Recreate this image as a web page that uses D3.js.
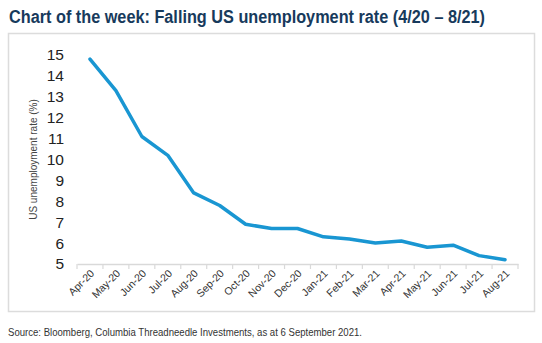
<!DOCTYPE html>
<html>
<head>
<meta charset="utf-8">
<script src="https://cdn.jsdelivr.net/npm/d3@7"></script>
<style>
  body { margin: 0; background: #fff; }
  svg { display: block; }
</style>
</head>
<body>
<div id="chart"></div>
<script>
// monthly US unemployment rate, Apr-20 .. Aug-21
var months = ["Apr-20", "May-20", "Jun-20", "Jul-20", "Aug-20", "Sep-20", "Oct-20", "Nov-20", "Dec-20",
              "Jan-21", "Feb-21", "Mar-21", "Apr-21", "May-21", "Jun-21", "Jul-21", "Aug-21"];
var rates = [14.8, 13.3, 11.1, 10.2, 8.4, 7.8, 6.9, 6.7, 6.7, 6.3, 6.2, 6.0, 6.1, 5.8, 5.9, 5.4, 5.2];
var yTicks = [5, 6, 7, 8, 9, 10, 11, 12, 13, 14, 15];

var W = 542, H = 343;
// note: "top" is taken by window.top, so plot edges get their own names
var plotL = 77, plotR = 518, plotT = 55, plotB = 264;

var svg = d3.select("#chart").append("svg")
    .attr("width", W)
    .attr("height", H);

svg.append("text")
    .attr("x", 9)
    .attr("y", 23)
    .attr("font-family", "'Liberation Sans Narrow', 'Arial Narrow', 'Liberation Sans', sans-serif")
    .attr("font-weight", "bold")
    .attr("font-size", 18)
    .attr("fill", "#173a5c")
    .attr("textLength", 476)
    .attr("lengthAdjust", "spacingAndGlyphs")
    .text("Chart of the week: Falling US unemployment rate (4/20 \u2013 8/21)");

// frame
svg.append("rect")
    .attr("x", 8.5)
    .attr("y", 33.5)
    .attr("width", 526)
    .attr("height", 278)
    .attr("fill", "none")
    .attr("stroke", "#dcdcdc")
    .attr("stroke-width", 1.5);

var x = d3.scaleBand().domain(months).range([plotL, plotR]);
var y = d3.scaleLinear().domain([5, 15]).range([plotB, plotT]);

// y axis labels only
var ya = svg.append("g")
    .attr("transform", "translate(" + (plotL - 13) + ",0)")
    .call(d3.axisLeft(y).tickValues(yTicks).tickSize(0).tickPadding(0));
ya.select(".domain").remove();
ya.selectAll("text")
    .attr("font-family", "'Liberation Sans', Arial, sans-serif")
    .attr("font-size", 15.5)
    .attr("fill", "#222");

svg.append("text")
    .attr("transform", "translate(37," + ((plotT + plotB) / 2) + ") rotate(-90)")
    .attr("text-anchor", "middle")
    .attr("font-family", "'Liberation Sans', Arial, sans-serif")
    .attr("font-size", 10)
    .attr("fill", "#444")
    .text("US unemployment rate (%)");

// x axis, ticks on category boundaries
var xa = svg.append("g")
    .attr("transform", "translate(0," + plotB + ")")
    .call(d3.axisBottom(x).tickSize(0).tickPadding(0));
xa.select(".domain")
    .attr("stroke", "#d9d9d9")
    .attr("stroke-width", 1.5);
xa.selectAll("text")
    .attr("font-family", "'Liberation Sans', Arial, sans-serif")
    .attr("font-size", 10.5)
    .attr("fill", "#333")
    .attr("text-anchor", "end")
    .attr("dy", 0)
    .attr("transform", "translate(5,10) rotate(-45)");

var bounds = months.map(function (m) { return x(m); }).concat([plotR]);
xa.selectAll(".bound").data(bounds).enter().append("line")
    .attr("class", "bound")
    .attr("x1", function (d) { return d; })
    .attr("x2", function (d) { return d; })
    .attr("y1", 0)
    .attr("y2", 5)
    .attr("stroke", "#d9d9d9")
    .attr("stroke-width", 1.2);

var line = d3.line()
    .x(function (d, i) { return x(months[i]) + x.bandwidth() / 2; })
    .y(function (d) { return y(d); });

svg.append("path")
    .datum(rates)
    .attr("d", line)
    .attr("fill", "none")
    .attr("stroke", "#1996d2")
    .attr("stroke-width", 3.5)
    .attr("stroke-linejoin", "round")
    .attr("stroke-linecap", "round");

svg.append("text")
    .attr("x", 8)
    .attr("y", 336)
    .attr("font-family", "'Liberation Sans Narrow', 'Arial Narrow', 'Liberation Sans', sans-serif")
    .attr("font-size", 11)
    .attr("fill", "#333")
    .attr("textLength", 354)
    .attr("lengthAdjust", "spacingAndGlyphs")
    .text("Source: Bloomberg, Columbia Threadneedle Investments, as at  6 September 2021.");
</script>
</body>
</html>
